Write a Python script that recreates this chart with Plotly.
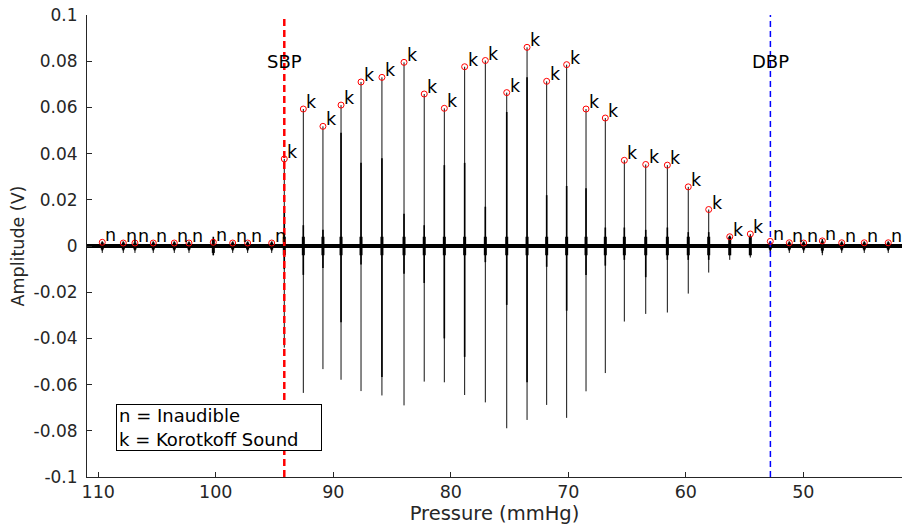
import plotly.graph_objects as go

# ---------------- data ----------------
record_range = [110.96, 41.6]          # pressure span of the recording (mmHg)
sbp = 94.17
dbp = 52.8

beat_pressure = [109.66, 107.87, 106.88, 105.32, 103.53, 102.28, 100.21, 98.56, 97.29, 95.24,
                 94.17, 92.55, 90.88, 89.34, 87.64, 85.86, 83.98, 82.26, 80.55, 78.82,
                 77.06, 75.24, 73.51, 71.84, 70.14, 68.49, 66.85, 65.23, 63.41, 61.57,
                 59.79, 58.05, 56.26, 54.51,
                 52.81, 51.19, 49.97, 48.38, 46.73, 44.81, 42.77]
beat_label = ["n"] * 10 + ["k"] * 24 + ["n"] * 7
beat_peak = [0.0016, 0.0013, 0.0013, 0.0013, 0.0013, 0.0013, 0.0016, 0.0013, 0.0013, 0.0013,
             0.0377, 0.0593, 0.0518, 0.0610, 0.0710, 0.0730, 0.0795, 0.0658, 0.0596, 0.0776,
             0.0803, 0.0664, 0.0860, 0.0713, 0.0785, 0.0593, 0.0554, 0.0371, 0.0353, 0.0350,
             0.0256, 0.0158, 0.0040, 0.0052,
             0.0020, 0.0014, 0.0013, 0.0022, 0.0014, 0.0014, 0.0014]
beat_trough = [-0.003, -0.003, -0.003, -0.003, -0.003, -0.003, -0.004, -0.003, -0.003, -0.003,
               -0.044, -0.0636, -0.0533, -0.0579, -0.0628, -0.0647, -0.0690, -0.0587, -0.0590, -0.0645,
               -0.0677, -0.0789, -0.0753, -0.0688, -0.0744, -0.0629, -0.0550, -0.0327, -0.0294, -0.0288,
               -0.0206, -0.0115, -0.0060, -0.0050,
               -0.003, -0.003, -0.003, -0.004, -0.003, -0.003, -0.003]
# dense (dark) part of each burst
burst_hi = [0.002, 0.002, 0.002, 0.002, 0.002, 0.002, 0.004, 0.002, 0.002, 0.002,
            0.0148, 0.009, 0.007, 0.049, 0.036, 0.038, 0.014, 0.009, 0.035, 0.036,
            0.017, 0.058, 0.073, 0.022, 0.026, 0.025, 0.008, 0.008, 0.007, 0.008,
            0.006, 0.006, 0.0045, 0.0045,
            0.002, 0.002, 0.002, 0.003, 0.002, 0.002, 0.002]
burst_lo = [-0.002, -0.002, -0.002, -0.002, -0.002, -0.002, -0.004, -0.002, -0.002, -0.002,
            -0.010, -0.0125, -0.0095, -0.033, -0.008, -0.0567, -0.012, -0.016, -0.040, -0.048,
            -0.007, -0.0255, -0.059, -0.009, -0.028, -0.0125, -0.0085, -0.006, -0.0135, -0.006,
            -0.006, -0.006, -0.004, -0.004,
            -0.002, -0.002, -0.002, -0.003, -0.002, -0.002, -0.002]
burst_core = [0.0015, 0.0015, 0.0015, 0.0015, 0.0015, 0.0015, 0.003, 0.0015, 0.0015, 0.0015,
              0.004, 0.004, 0.004, 0.004, 0.004, 0.004, 0.004, 0.004, 0.004, 0.004,
              0.004, 0.004, 0.004, 0.004, 0.004, 0.004, 0.004, 0.004, 0.004, 0.004,
              0.004, 0.004, 0.004, 0.004,
              0.0015, 0.0015, 0.0015, 0.002, 0.0015, 0.0015, 0.0015]

x_ticks = [110, 100, 90, 80, 70, 60, 50]
y_ticks = [0.1, 0.08, 0.06, 0.04, 0.02, 0, -0.02, -0.04, -0.06, -0.08, -0.1]
y_ticktext = ["0.1", "0.08", "0.06", "0.04", "0.02", "0", "-0.02", "-0.04", "-0.06", "-0.08", "-0.1"]
legend_lines = ["n = Inaudible", "k = Korotkoff Sound"]

FONT = "DejaVu Sans"
INK = "#262626"


def segments(xs, lo, hi):
    X, Y = [], []
    for x, a, b in zip(xs, lo, hi):
        X += [x, x, None]
        Y += [a, b, None]
    return X, Y


fig = go.Figure()

# baseline noise band
fig.add_trace(go.Scatter(x=record_range, y=[0, 0], mode="lines",
                         line=dict(color="black", width=4), hoverinfo="skip"))
# full spikes
sx, sy = segments(beat_pressure, beat_trough, beat_peak)
fig.add_trace(go.Scatter(x=sx, y=sy, mode="lines", line=dict(color="#111111", width=1),
                         hoverinfo="skip"))
# dense part of bursts
bx, by = segments(beat_pressure, burst_lo, burst_hi)
fig.add_trace(go.Scatter(x=bx, y=by, mode="lines", line=dict(color="black", width=1.6),
                         hoverinfo="skip"))
cx, cy = segments(beat_pressure, [-v for v in burst_core], burst_core)
fig.add_trace(go.Scatter(x=cx, y=cy, mode="lines", line=dict(color="black", width=3),
                         hoverinfo="skip"))

# SBP / DBP lines
fig.add_trace(go.Scatter(x=[sbp, sbp], y=[y_ticks[-1], y_ticks[0]], mode="lines",
                         line=dict(color="#ff0000", width=2.5, dash="7px,4px"), hoverinfo="skip"))
fig.add_trace(go.Scatter(x=[dbp, dbp], y=[y_ticks[-1], y_ticks[0]], mode="lines",
                         line=dict(color="#0000ff", width=1.5, dash="6px,4px"), hoverinfo="skip"))

# peak markers
fig.add_trace(go.Scatter(x=beat_pressure, y=beat_peak, mode="markers",
                         marker=dict(symbol="circle-open", size=6, color="#ff0000",
                                     line=dict(width=1, color="#ff0000")),
                         hoverinfo="skip"))
# peak labels
for p, a, lab in zip(beat_pressure, beat_peak, beat_label):
    fig.add_annotation(x=p, y=a, text=lab, showarrow=False, xanchor="left", yanchor="bottom",
                       xshift=2, yshift=-4, borderpad=0,
                       font=dict(family=FONT, size=17.5, color="black"))

fig.add_annotation(x=sbp, y=0.080, text="SBP", showarrow=False,
                   font=dict(family=FONT, size=18, color="black"), xanchor="center", yanchor="middle")
fig.add_annotation(x=dbp, y=0.080, text="DBP", showarrow=False,
                   font=dict(family=FONT, size=18, color="black"), xanchor="center", yanchor="middle")

fig.add_annotation(x=108.47, y=-0.0684, xanchor="left", yanchor="top",
                   text="<br>".join(legend_lines), align="left", showarrow=False,
                   width=200, height=41,
                   font=dict(family=FONT, size=18, color="black"),
                   bgcolor="white", bordercolor="black", borderwidth=1, borderpad=2)

fig.update_layout(
    width=902, height=527,
    margin=dict(l=87, r=0, t=15, b=50),
    plot_bgcolor="white", paper_bgcolor="white",
    showlegend=False,
    font=dict(family=FONT, size=17, color=INK),
    xaxis=dict(range=record_range, tickvals=x_ticks, ticks="inside", ticklen=5,
               tickcolor=INK, showline=True, linecolor=INK, linewidth=1,
               showgrid=False, zeroline=False, ticklabelstandoff=-1,
               tickfont=dict(size=17.5),
               title=dict(text="Pressure (mmHg)", font=dict(size=19.5, color=INK), standoff=2)),
    yaxis=dict(range=[y_ticks[-1], y_ticks[0]], tickvals=y_ticks, ticktext=y_ticktext,
               ticks="inside", ticklen=5, tickcolor=INK, showline=True, linecolor=INK,
               linewidth=1, showgrid=False, zeroline=False, ticklabelstandoff=5,
               tickfont=dict(size=17),
               title=dict(text="Amplitude (V)", font=dict(size=17.5, color=INK), standoff=4)),
)

fig.write_html("out.html")
